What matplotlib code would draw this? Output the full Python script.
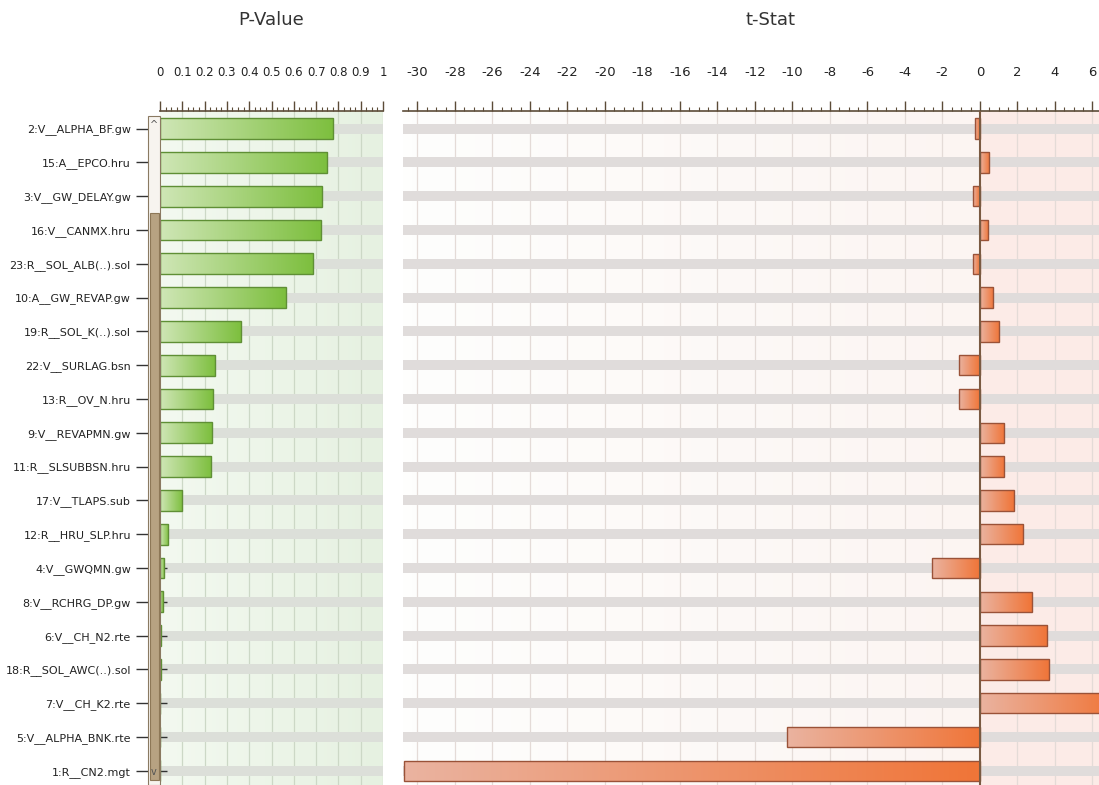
import numpy as np
import matplotlib
matplotlib.use("Agg")
import matplotlib.pyplot as plt
from matplotlib.colors import LinearSegmentedColormap
from matplotlib.patches import Rectangle
from matplotlib.ticker import MultipleLocator, FixedLocator

# --- data ---
params = [
    "2:V__ALPHA_BF.gw", "15:A__EPCO.hru", "3:V__GW_DELAY.gw", "16:V__CANMX.hru",
    "23:R__SOL_ALB(..).sol", "10:A__GW_REVAP.gw", "19:R__SOL_K(..).sol",
    "22:V__SURLAG.bsn", "13:R__OV_N.hru", "9:V__REVAPMN.gw", "11:R__SLSUBBSN.hru",
    "17:V__TLAPS.sub", "12:R__HRU_SLP.hru", "4:V__GWQMN.gw", "8:V__RCHRG_DP.gw",
    "6:V__CH_N2.rte", "18:R__SOL_AWC(..).sol", "7:V__CH_K2.rte",
    "5:V__ALPHA_BNK.rte", "1:R__CN2.mgt",
]
p_value = [0.776, 0.75, 0.725, 0.72, 0.686, 0.565, 0.363, 0.247, 0.236, 0.232,
           0.229, 0.10, 0.037, 0.02, 0.012, 0.005, 0.004, 0.0, 0.0, 0.0]
t_stat = [-0.25, 0.5, -0.35, 0.45, -0.35, 0.7, 1.03, -1.1, -1.1, 1.28,
          1.28, 1.8, 2.3, -2.55, 2.77, 3.6, 3.7, 7.2, -10.3, -30.7]
p_ticks = [0, 0.1, 0.2, 0.3, 0.4, 0.5, 0.6, 0.7, 0.8, 0.9, 1]
p_tick_labels = ["0", "0.1", "0.2", "0.3", "0.4", "0.5", "0.6", "0.7", "0.8", "0.9", "1"]

plt.rcParams["axes.unicode_minus"] = False
plt.rcParams["font.family"] = "DejaVu Sans"
AXCOL = "#5c4c38"
W, H = 1099, 785

fig = plt.figure(figsize=(W / 100, H / 100), dpi=100)
fig.patch.set_facecolor("white")

def px_axes(x0, x1, ytop):
    return fig.add_axes([x0 / W, 0, (x1 - x0) / W, 1 - ytop / H])

ax_p = px_axes(160, 383, 111)
ax_t = px_axes(403, W, 111)

rows = np.arange(len(params))
ylim = (19.42, -0.52)


def grad_bars(ax, bars, c0, c1):
    cmap = LinearSegmentedColormap.from_list("g", [c0, c1])
    grad = np.linspace(0, 1, 128).reshape(1, -1)
    for b in bars:
        w = b.get_width()
        if abs(w) < 1e-9:
            continue
        x0 = min(b.get_x(), b.get_x() + w)
        x1 = max(b.get_x(), b.get_x() + w)
        y, h = b.get_y(), b.get_height()
        im = ax.imshow(grad, cmap=cmap, aspect="auto", extent=(x0, x1, y + h, y),
                       interpolation="bilinear", zorder=2.5)
        im.set_clip_path(b)


def style_top(ax, fs):
    ax.xaxis.tick_top()
    for s in ["left", "right", "bottom"]:
        ax.spines[s].set_visible(False)
    ax.spines["top"].set_color(AXCOL)
    ax.spines["top"].set_linewidth(1.2)
    ax.tick_params(axis="x", which="major", direction="out", length=7, width=1,
                   color=AXCOL, pad=16, labelsize=fs, labelcolor="#222222")
    ax.tick_params(axis="x", which="minor", direction="out", length=3, width=0.8,
                   color=AXCOL)


# ---------------- P-Value panel ----------------
bg = np.linspace(0, 1, 64).reshape(1, -1)
ax_p.imshow(bg, cmap=LinearSegmentedColormap.from_list("bgp", ["#f3f9f0", "#e6f1e1"]),
            aspect="auto", extent=(0, 1, 0, 1), transform=ax_p.transAxes, zorder=0)
for x in p_ticks[1:]:
    ax_p.axvline(x, color="#ccd8c6", lw=0.9, zorder=1)
ax_p.barh(rows, [1] * len(rows), height=0.3, color="#dcdfd9", zorder=1.5)
pb = ax_p.barh(rows, p_value, height=0.62, facecolor="none", edgecolor="#5f8f35",
               linewidth=1, zorder=3)
grad_bars(ax_p, pb, "#cfe6b6", "#7dbf3e")
ax_p.set_xlim(0, 1)
ax_p.set_ylim(*ylim)
ax_p.xaxis.set_major_locator(FixedLocator(p_ticks))
ax_p.set_xticklabels(p_tick_labels)
ax_p.xaxis.set_minor_locator(MultipleLocator(0.025))
style_top(ax_p, 8.5)

ax_p.set_yticks(rows)
ax_p.set_yticklabels(params)
ax_p.tick_params(axis="y", direction="out", length=17, width=1, color="#333333",
                 pad=4, labelsize=8, labelcolor="#222222")
ax_p.yaxis.set_minor_locator(FixedLocator(rows))
ax_p.yaxis.remove_overlapping_locs = False
ax_p.tick_params(axis="y", which="minor", direction="in", length=5, width=1,
                 color="#333333")

# scrollbar strip between labels and the P-Value bars
fig.patches.append(Rectangle((148 / W, 0), 12 / W, 1 - 116 / H, transform=fig.transFigure,
                             facecolor="#f7f4ef", edgecolor="#8a7a62", lw=0.8, zorder=5))
fig.patches.append(Rectangle((149.5 / W, 5 / H), 9 / W, (780 - 213) / H,
                             transform=fig.transFigure, facecolor="#b7a282",
                             edgecolor="#8d7757", lw=0.8, zorder=6))
fig.text(154 / W, 1 - 125 / H, "^", fontsize=7, ha="center", va="center",
         color="#555555", zorder=7)
fig.text(154 / W, 1 - 772 / H, "v", fontsize=7, ha="center", va="center",
         color="#555555", zorder=7)

# ---------------- t-Stat panel ----------------
xl = (-30.77, (W - 980) / 18.75)
ax_t.imshow(bg, cmap=LinearSegmentedColormap.from_list("bgt", ["#fefefd", "#fcf5f2"]),
            aspect="auto", extent=(xl[0], 0, ylim[0], ylim[1]), zorder=0)
ax_t.axvspan(0, xl[1], color="#fcebe7", zorder=0.5, lw=0)
for x in np.arange(-30, 7, 2):
    if x != 0:
        ax_t.axvline(x, color="#e4dbd7", lw=0.9, zorder=1)
ax_t.barh(rows, [xl[1] - xl[0]] * len(rows), left=xl[0], height=0.3,
          color="#e0dcdb", zorder=1.5)
tb = ax_t.barh(rows, t_stat, height=0.6, facecolor="none", edgecolor="#9a5238",
               linewidth=1, zorder=3)
grad_bars(ax_t, tb, "#eab3a0", "#f07538")
ax_t.axvline(0, color="#7a5a42", lw=1.5, zorder=4)
ax_t.set_xlim(*xl)
ax_t.set_ylim(*ylim)
ax_t.xaxis.set_major_locator(MultipleLocator(2))
ax_t.xaxis.set_minor_locator(MultipleLocator(0.5))
ax_t.set_yticks([])
style_top(ax_t, 9.5)

# panel titles
fig.text(271 / W, 1 - 20 / H, "P-Value", fontsize=13, ha="center", va="center",
         color="#333333")
fig.text(770 / W, 1 - 20 / H, "t-Stat", fontsize=13, ha="center", va="center",
         color="#333333")

fig.savefig("out.png", dpi=100)
